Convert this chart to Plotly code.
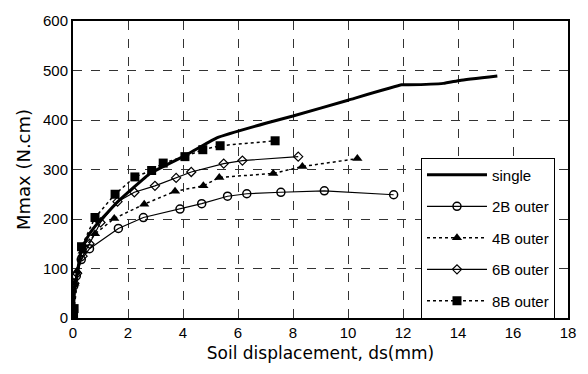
import plotly.graph_objects as go

# Data
single_x = [0, 0.05, 0.15, 0.32, 0.6, 0.92, 1.65, 2.8, 4.07, 5.23, 7.04, 8.0, 10.0, 11.95, 12.2, 13.47, 14.07, 15.43]
single_y = [0, 50, 90, 141, 170, 193, 236, 292, 328, 364, 394, 408, 440, 471, 471, 474, 480, 489]

b2_x = [0, 0.03, 0.12, 0.3, 0.6, 1.65, 2.56, 3.89, 4.68, 5.62, 6.32, 7.56, 9.14, 11.66]
b2_y = [0, 65, 85, 118, 140, 181, 203, 220, 231, 246, 251, 254, 257, 249]

b4_x = [0, 0.05, 0.15, 0.35, 0.8, 1.5, 2.59, 3.71, 4.74, 5.32, 7.28, 8.34, 10.34]
b4_y = [0, 70, 95, 135, 170, 201, 230, 256, 267, 284, 292, 306, 322]

b6_x = [0, 0.05, 0.15, 0.35, 0.6, 1.0, 1.62, 2.23, 2.98, 3.75, 4.3, 5.48, 6.16, 8.19]
b6_y = [0, 70, 90, 125, 150, 193, 235, 254, 267, 283, 295, 312, 318, 326]

b8_x = [0, 0.02, 0.04, 0.31, 0.8, 1.53, 2.25, 2.86, 3.28, 4.07, 4.72, 5.35, 7.35]
b8_y = [2, 10, 19, 144, 203, 250, 285, 298, 313, 326, 340, 348, 358]

x_ticks = [0, 2, 4, 6, 8, 10, 12, 14, 16, 18]
y_ticks = [0, 100, 200, 300, 400, 500, 600]

FONT = "Arial, Liberation Sans, sans-serif"
TFONT = "DejaVu Sans, sans-serif"

fig = go.Figure()
fig.add_trace(go.Scatter(x=single_x, y=single_y, mode="lines", name="single",
                         line=dict(color="black", width=3, shape="spline", smoothing=0.3),
                         legendgroup="a"))
fig.add_trace(go.Scatter(x=b2_x, y=b2_y, mode="lines+markers", name="2B outer",
                         line=dict(color="black", width=1.2),
                         marker=dict(symbol="circle-open", size=8, color="black", line=dict(width=1.5)),
                         legendgroup="b"))
fig.add_trace(go.Scatter(x=b4_x, y=b4_y, mode="lines+markers", name="4B outer",
                         line=dict(color="black", width=1.5, dash="dot"),
                         marker=dict(symbol="triangle-up", size=9, color="black"),
                         legendgroup="c"))
fig.add_trace(go.Scatter(x=b6_x, y=b6_y, mode="lines+markers", name="6B outer",
                         line=dict(color="black", width=1.2),
                         marker=dict(symbol="diamond-open", size=7, color="black", line=dict(width=1.2)),
                         legendgroup="d"))
fig.add_trace(go.Scatter(x=b8_x, y=b8_y, mode="lines+markers", name="8B outer",
                         line=dict(color="black", width=1.5, dash="dot"),
                         marker=dict(symbol="square", size=9, color="black"),
                         legendgroup="e"))

fig.update_layout(
    width=588, height=374,
    margin=dict(l=73, r=20, t=14, b=56),
    paper_bgcolor="white", plot_bgcolor="white",
    font=dict(family=FONT, size=15, color="black"),
    legend=dict(x=0.703, y=0.54, xanchor="left", yanchor="top",
                bordercolor="black", borderwidth=1, bgcolor="white",
                font=dict(size=15), tracegroupgap=9, itemwidth=60,
                entrywidth=76, entrywidthmode="pixels",
                traceorder="grouped"),
    showlegend=True,
)
fig.update_xaxes(range=[0, 18], tickvals=x_ticks, ticktext=[str(v) for v in x_ticks],
                 showgrid=True, gridcolor="#333", griddash="dash", gridwidth=1,
                 showline=True, linecolor="black", linewidth=2, mirror=True,
                 ticks="", zeroline=False,
                 title=dict(text="Soil displacement, ds(mm)", font=dict(size=17, family=TFONT), standoff=7),
                 tickfont=dict(size=15))
fig.update_yaxes(range=[0, 600], tickvals=y_ticks, ticktext=[str(v) for v in y_ticks],
                 showgrid=True, gridcolor="#333", griddash="dash", gridwidth=1,
                 showline=True, linecolor="black", linewidth=2, mirror=True,
                 ticks="", zeroline=False,
                 title=dict(text="Mmax (N.cm)", font=dict(size=18, family=TFONT), standoff=8),
                 tickfont=dict(size=15))

fig.write_html("out.html")
